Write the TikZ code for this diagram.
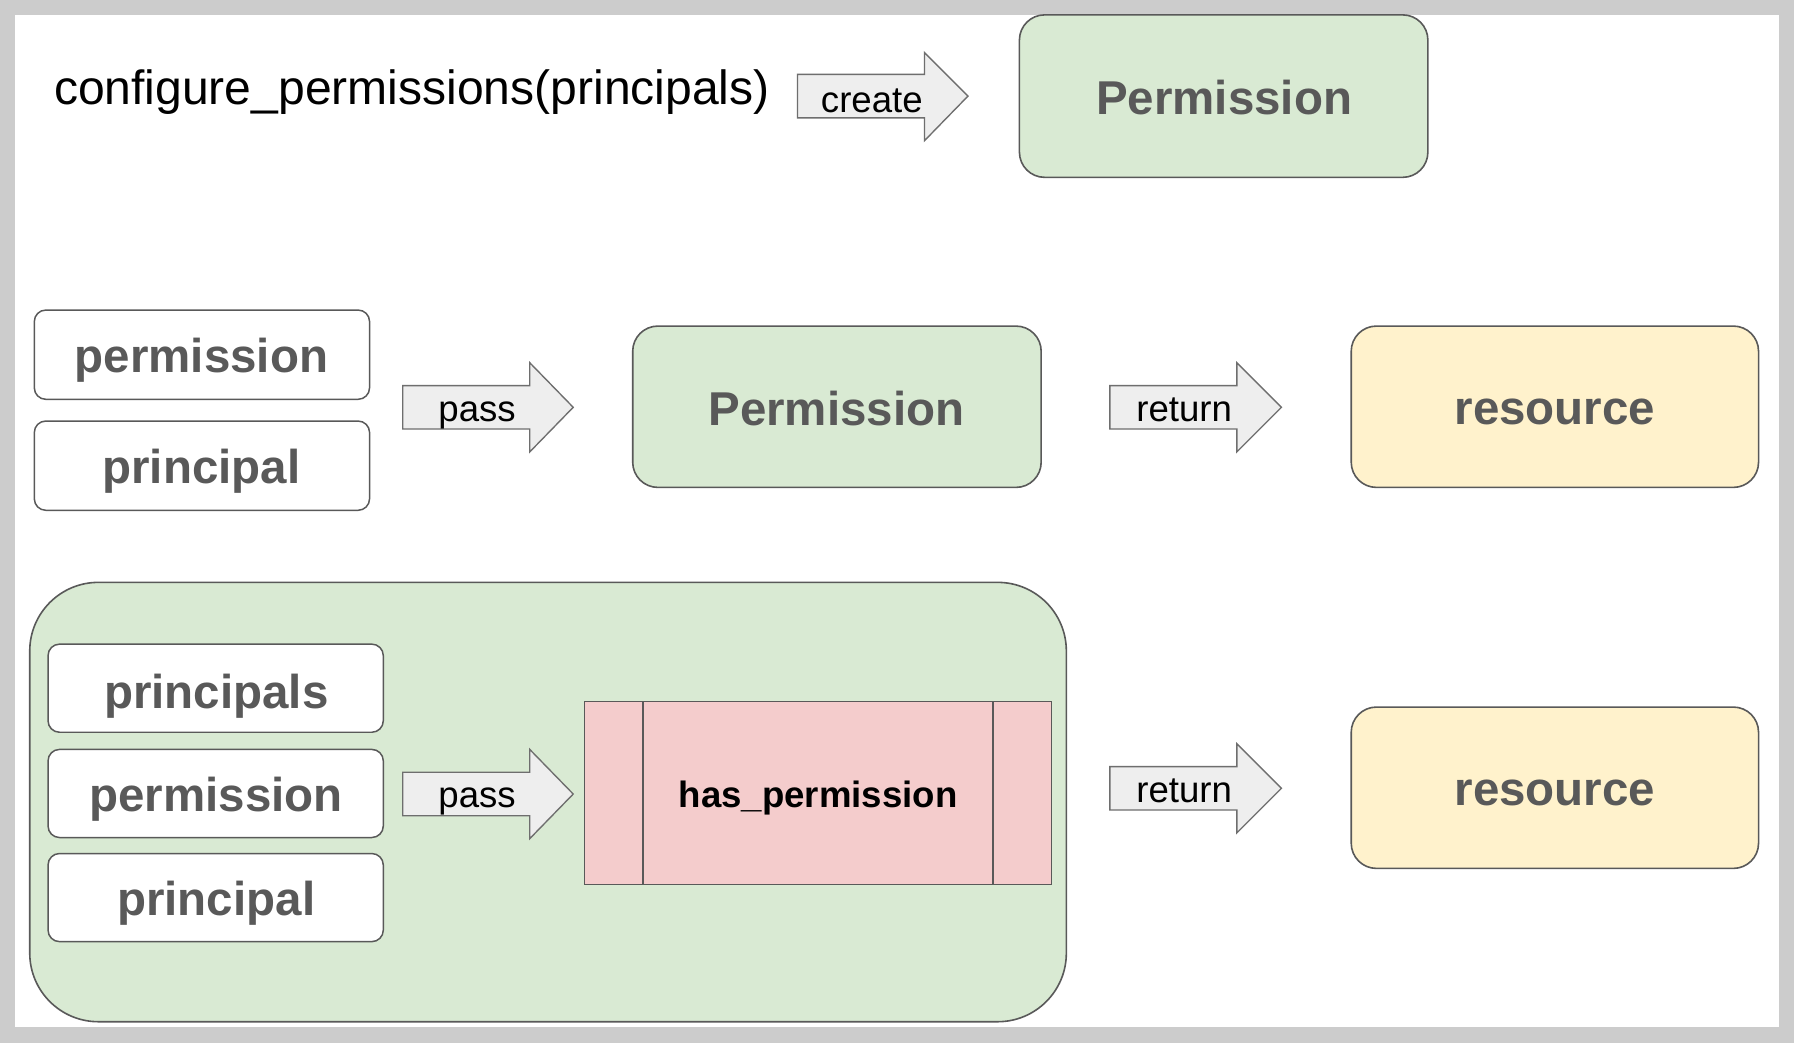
\documentclass[tikz,border=0pt]{standalone}
\usepackage{fontspec}
\setmainfont{Liberation Sans}
\definecolor{bggray}{HTML}{CCCCCC}
\definecolor{boxline}{HTML}{595959}
\definecolor{labelgray}{HTML}{595959}
\definecolor{greenfill}{HTML}{D9EAD3}
\definecolor{yellowfill}{HTML}{FFF2CC}
\definecolor{pinkfill}{HTML}{F4CCCC}
\definecolor{arrowfill}{HTML}{EEEEEE}
\definecolor{arrowline}{HTML}{6E6E6E}
\tikzset{
  bigbox/.style={draw=boxline, line width=1.4pt, rounded corners=22pt},
  smallbox/.style={draw=boxline, line width=1.3pt, fill=white, rounded corners=10pt},
  blockarrow/.style={draw=arrowline, fill=arrowfill, line width=1.2pt, line join=miter},
  biglabel/.style={inner sep=0pt, anchor=base, text=labelgray, font=\fontsize{41.5}{49}\selectfont\bfseries},
  smalllabel/.style={inner sep=0pt, anchor=base, text=black, font=\fontsize{32}{38}\selectfont},
}
\begin{document}
\begin{tikzpicture}[x=1pt,y=-1pt]
\useasboundingbox (0,0) rectangle (1568,912);
\fill[bggray] (0,0) rectangle (1568,912);
\fill[white] (13,13) rectangle (1555,898);

% ---------- row 1 ----------
\node[inner sep=0pt, anchor=base west, font=\fontsize{42}{50}\selectfont] (title) at (47,91) {configure\_permissions(principals)};
\draw[blockarrow] (697,65) -- (808,65) -- (808,46) -- (846,84) -- (808,123) -- (808,103) -- (697,103) -- cycle;
\node[smalllabel] (create) at (762,98) {create};
\draw[bigbox, fill=greenfill] (891,13) rectangle (1248,155);
\node[biglabel] (perm1) at (1070,100.5) {Permission};

% ---------- row 2 ----------
\draw[smallbox] (30,271) rectangle (323,349);
\node[biglabel] (permission2) at (176,326) {permission};
\draw[smallbox] (30,368) rectangle (323,446);
\node[biglabel] (principal2) at (176,423) {principal};
\draw[blockarrow] (352,337) -- (463,337) -- (463,317) -- (501,356) -- (463,395) -- (463,375) -- (352,375) -- cycle;
\node[smalllabel] (pass2) at (417,368) {pass};
\draw[bigbox, fill=greenfill] (553,285) rectangle (910,426);
\node[biglabel] (perm2) at (731,371.5) {Permission};
\draw[blockarrow] (970,337) -- (1081,337) -- (1081,317) -- (1120,356) -- (1081,395) -- (1081,375) -- (970,375) -- cycle;
\node[smalllabel] (return2) at (1035,368) {return};
\draw[bigbox, fill=yellowfill] (1181,285) rectangle (1537,426);
\node[biglabel] (resource2) at (1359,371) {resource};

% ---------- row 3 ----------
\draw[bigbox, fill=greenfill, rounded corners=60pt] (26,509) rectangle (932,893);
\draw[smallbox] (42,563) rectangle (335,640);
\node[biglabel] (principals3) at (189,619) {principals};
\draw[smallbox] (42,655) rectangle (335,732);
\node[biglabel] (permission3) at (189,709) {permission};
\draw[smallbox] (42,746) rectangle (335,823);
\node[biglabel] (principal3) at (189,800.5) {principal};
\draw[blockarrow] (352,675) -- (463,675) -- (463,655) -- (501,694) -- (463,733) -- (463,713) -- (352,713) -- cycle;
\node[smalllabel] (pass3) at (417,706) {pass};
\draw[draw=boxline, line width=1.3pt, fill=pinkfill] (511,613) rectangle (919,773);
\draw[draw=boxline, line width=1.3pt] (562,613) -- (562,773) (868,613) -- (868,773);
\node[inner sep=0pt, anchor=base, text=black, font=\fontsize{32}{38}\selectfont\bfseries] (hasperm) at (715,706) {has\_permission};
\draw[blockarrow] (970,670) -- (1081,670) -- (1081,650) -- (1120,689) -- (1081,728) -- (1081,708) -- (970,708) -- cycle;
\node[smalllabel] (return3) at (1035,701) {return};
\draw[bigbox, fill=yellowfill] (1181,618) rectangle (1537,759);
\node[biglabel] (resource3) at (1359,704) {resource};
\end{tikzpicture}
\end{document}
